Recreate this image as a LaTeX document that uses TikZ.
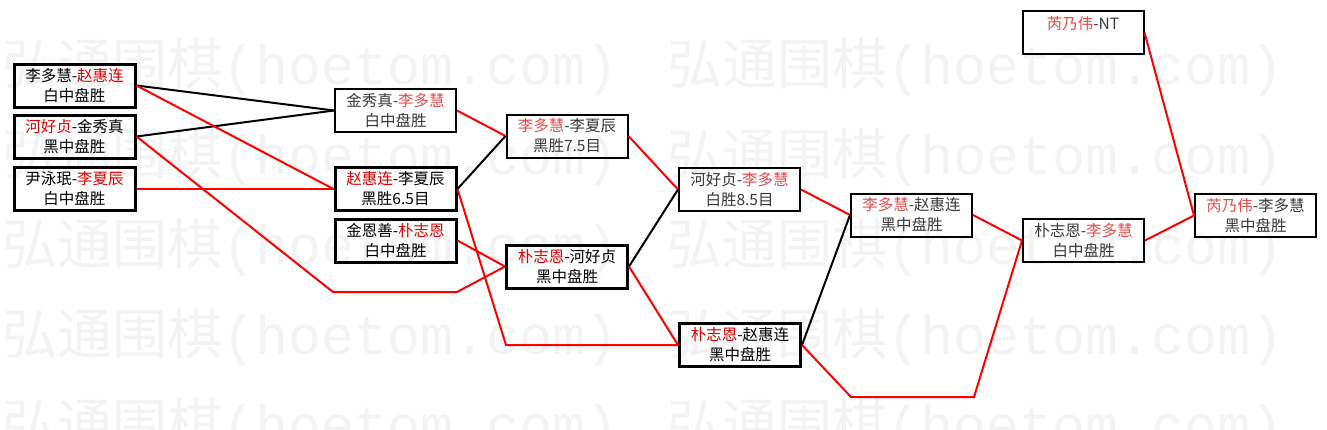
\documentclass[tikz,border=0pt]{standalone}
\usepackage{fontspec}
\setmainfont{Noto Sans CJK SC}
\newfontfamily\wmmono{Liberation Mono}
\definecolor{redK}{HTML}{E00000}
\definecolor{redT}{HTML}{E84848}
\definecolor{grayT}{HTML}{383838}
\definecolor{wmgray}{HTML}{F3F3F3}
\newcommand\myrk[1]{\textcolor{redK}{#1}}
\newcommand\myrt[1]{\textcolor{redT}{#1}}
\begin{document}
\begin{tikzpicture}[x=1pt,y=-1pt,
  basebox/.style={rectangle, draw=black, minimum width=121pt, minimum height=43pt,
    inner sep=0pt, align=center, font=\fontsize{15.5}{20}\selectfont},
  boxk/.style={basebox, line width=3pt, text=black},
  boxt/.style={basebox, line width=2pt, text=grayT},
  blk/.style={draw=black, line width=2pt},
  rd/.style={draw=red, line width=2pt},
  wmark/.style={anchor=west, inner sep=0pt, text=wmgray, font=\fontsize{55}{55}\selectfont}
  ]
\useasboundingbox (0,0) rectangle (1327,429);
% watermark
\foreach \r/\yy in {1/67,2/157,3/247,4/337,5/427}{
  \node[wmark] (wmL\r) at (2,\yy) {弘通围棋{\wmmono(hoetom.com)}};
  \node[wmark] (wmR\r) at (667,\yy) {弘通围棋{\wmmono(hoetom.com)}};
}
% boxes
\node[boxk] (a1) at (74.5,85.5) {李多慧-\myrk{赵惠连}\\白中盘胜};
\node[boxk] (a2) at (74.5,136.5) {\myrk{河好贞}-金秀真\\黑中盘胜};
\node[boxk] (a3) at (74.5,189) {尹泳珉-\myrk{李夏辰}\\白中盘胜};
\node[boxt] (b1) at (395.5,110.5) {金秀真-\myrt{李多慧}\\白中盘胜};
\node[boxk] (b2) at (395.5,189) {\myrk{赵惠连}-李夏辰\\黑胜6.5目};
\node[boxk] (b3) at (395.5,240.5) {金恩善-\myrk{朴志恩}\\白中盘胜};
\node[boxt] (c1) at (567,136) {\myrt{李多慧}-李夏辰\\黑胜7.5目};
\node[boxk] (c2) at (567,266.5) {\myrk{朴志恩}-河好贞\\黑中盘胜};
\node[boxt] (d1) at (739.5,189.5) {河好贞-\myrt{李多慧}\\白胜8.5目};
\node[boxk] (d2) at (740,345) {\myrk{朴志恩}-赵惠连\\黑中盘胜};
\node[boxt] (e1) at (911.5,215) {\myrt{李多慧}-赵惠连\\黑中盘胜};
\node[boxt] (f1) at (1083.5,240.5) {朴志恩-\myrt{李多慧}\\白中盘胜};
\node[boxt] (g1) at (1255.5,215.5) {\myrt{芮乃伟}-李多慧\\黑中盘胜};
\node[boxt] (g0) at (1083,32.5) {\myrt{芮乃伟}-NT\\\mbox{}};
% bend points
\coordinate (p1) at (333,292);
\coordinate (p2) at (457,292);
\coordinate (p3) at (506,345);
\coordinate (p4) at (851,397);
\coordinate (p5) at (974,397);
% connectors
\draw[blk] (a1.east) -- (b1.west);
\draw[blk] (a2.east) -- (b1.west);
\draw[rd] (a1.east) -- (b2.west);
\draw[rd] (a3.east) -- (b2.west);
\draw[rd] (a2.east) -- (p1) -- (p2) -- (c2.west);
\draw[rd] (b3.east) -- (c2.west);
\draw[rd] (b1.east) -- (c1.west);
\draw[blk] (b2.east) -- (c1.west);
\draw[rd] (b2.east) -- (p3) -- (d2.west);
\draw[rd] (c1.east) -- (d1.west);
\draw[blk] (c2.east) -- (d1.west);
\draw[rd] (c2.east) -- (d2.west);
\draw[rd] (d1.east) -- (e1.west);
\draw[blk] (d2.east) -- (e1.west);
\draw[rd] (d2.east) -- (p4) -- (p5) -- (f1.west);
\draw[rd] (e1.east) -- (f1.west);
\draw[rd] (f1.east) -- (g1.west);
\draw[rd] (g0.east) -- (g1.west);
\end{tikzpicture}
\end{document}
